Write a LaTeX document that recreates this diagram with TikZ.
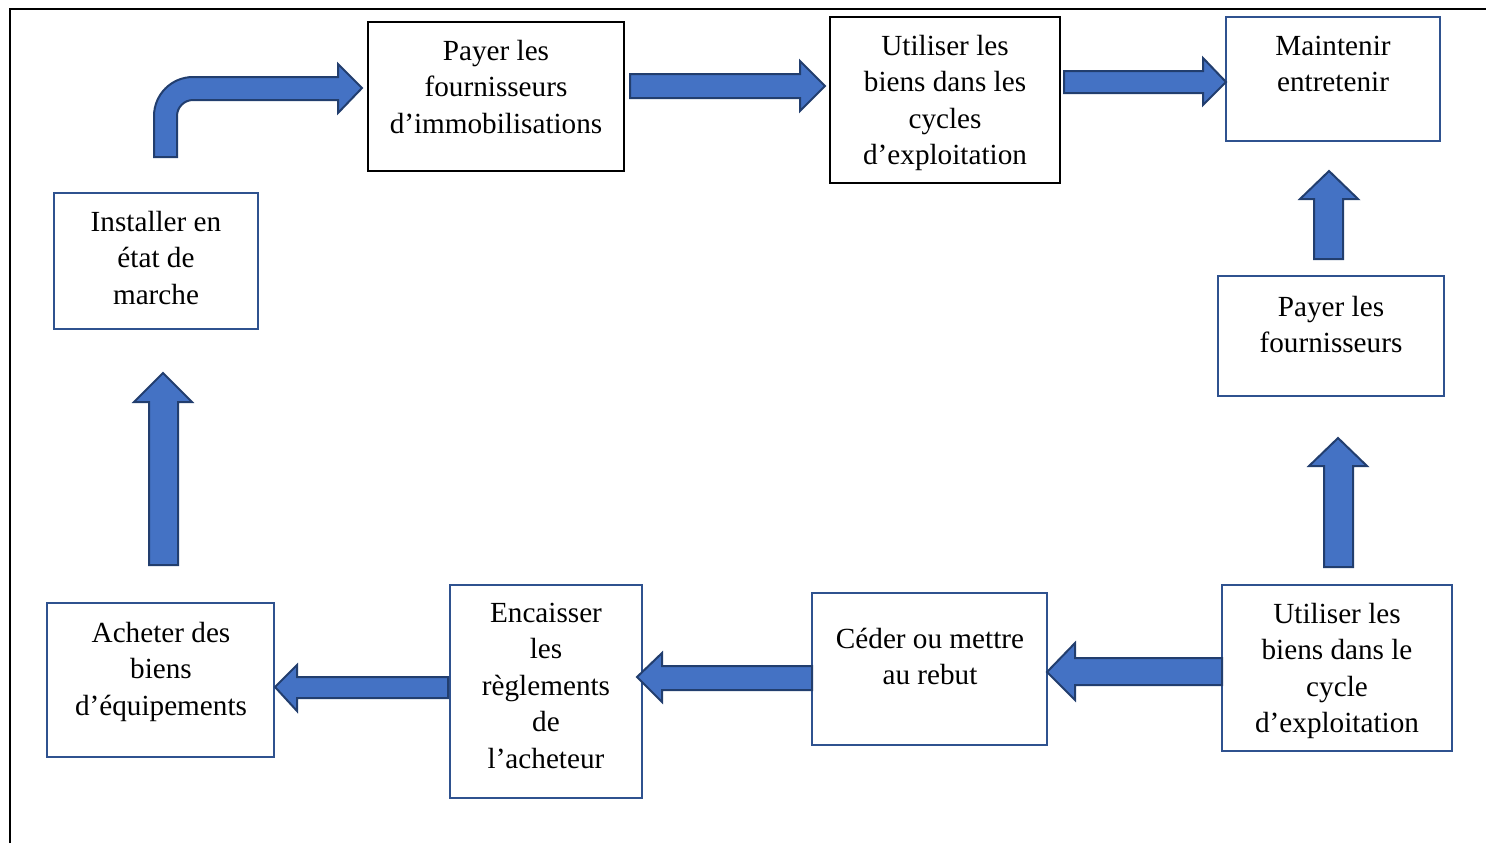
\documentclass[tikz,border=0pt]{standalone}
\usepackage{fontspec}
\setmainfont{Liberation Serif}
\definecolor{boxblue}{HTML}{2F528F}
\definecolor{arrfill}{HTML}{4472C4}
\definecolor{arrline}{HTML}{223E6E}
\begin{document}
\begin{tikzpicture}[x=0.5pt,y=-0.5pt,
  bbox/.style={draw=boxblue,line width=1.2pt,fill=white,inner sep=0pt,outer sep=0pt},
  kbox/.style={draw=black,line width=1.3pt,fill=white,inner sep=0pt,outer sep=0pt},
  txt/.style={inner sep=0pt,align=center,font=\fontsize{14.6pt}{18.25pt}\selectfont,anchor=base},
  barrow/.style={fill=arrfill,draw=arrline,line width=1pt,line join=miter}]
\useasboundingbox (0,0) rectangle (1486,843);
% frame
\coordinate (fA) at (10,843);
\coordinate (fB) at (10,9);
\coordinate (fC) at (1486,9);
\draw[line width=1.1pt] (fA) -- (fB) -- (fC);
% boxes
\node[kbox,minimum width=128pt,minimum height=74.5pt] (b1) at (496,96.5) {};
\node[kbox,minimum width=115pt,minimum height=83pt] (b2) at (945,100) {};
\node[bbox,minimum width=107pt,minimum height=62pt] (b3) at (1333,79) {};
\node[bbox,minimum width=102pt,minimum height=68pt] (b4) at (156,261) {};
\node[bbox,minimum width=113pt,minimum height=60pt] (b5) at (1331,336) {};
\node[bbox,minimum width=113.5pt,minimum height=77pt] (b6) at (160.5,680) {};
\node[bbox,minimum width=96pt,minimum height=106.5pt] (b7) at (546,691.5) {};
\node[bbox,minimum width=117.5pt,minimum height=76pt] (b8) at (929.5,669) {};
\node[bbox,minimum width=115pt,minimum height=83pt] (b9) at (1337,668) {};
% texts (anchor = baseline of last line)
\node[txt] (t1) at (496,133) {Payer les\\fournisseurs\\d’immobilisations};
\node[txt] (t2) at (945,164.5) {Utiliser les\\biens dans les\\cycles\\d’exploitation};
\node[txt] (t3) at (1333,91.5) {Maintenir\\entretenir};
\node[txt] (t4) at (156,304) {Installer en\\état de\\marche};
\node[txt] (t5) at (1331,352.5) {Payer les\\fournisseurs};
\node[txt] (t6) at (161,715) {Acheter des\\biens\\d’équipements};
\node[txt] (t7) at (546,768) {Encaisser\\les\\règlements\\de\\l’acheteur};
\node[txt] (t8) at (930,684.5) {Céder ou mettre\\au rebut};
\node[txt] (t9) at (1337,732.5) {Utiliser les\\biens dans le\\cycle\\d’exploitation};
% curved arrow (b4 -> b1)
\draw[barrow] (154,157) -- (154,116)
  .. controls (154,94.5) and (171.5,77) .. (193,77)
  -- (338,77) -- (338,64) -- (362,88) -- (338,113) -- (338,100) -- (193,100)
  .. controls (184.2,100) and (177,107.2) .. (177,116)
  -- (177,157) -- cycle;
% b1 -> b2
\draw[barrow] (630,74) -- (800,74) -- (800,61) -- (825,86) -- (800,111) -- (800,98) -- (630,98) -- cycle;
% b2 -> b3
\draw[barrow] (1064,71) -- (1203,71) -- (1203,58) -- (1226,82) -- (1203,105) -- (1203,93) -- (1064,93) -- cycle;
% b5 -> b3
\draw[barrow] (1314,259) -- (1314,199) -- (1300,199) -- (1329,171) -- (1358,199) -- (1343,199) -- (1343,259) -- cycle;
% b9 -> b5
\draw[barrow] (1324,567) -- (1324,466) -- (1309,466) -- (1338,438) -- (1367,466) -- (1353,466) -- (1353,567) -- cycle;
% b9 -> b8
\draw[barrow] (1222,658) -- (1075,658) -- (1075,643) -- (1047,672) -- (1075,700) -- (1075,685) -- (1222,685) -- cycle;
% b8 -> b7
\draw[barrow] (812,666) -- (662,666) -- (662,653) -- (637,677) -- (662,702) -- (662,690) -- (812,690) -- cycle;
% b7 -> b6
\draw[barrow] (448,677) -- (297,677) -- (297,665) -- (275,687) -- (297,711) -- (297,698) -- (448,698) -- cycle;
% b6 -> b4
\draw[barrow] (149,565) -- (149,402) -- (134,402) -- (163,373) -- (192,402) -- (178,402) -- (178,565) -- cycle;
\end{tikzpicture}
\end{document}
